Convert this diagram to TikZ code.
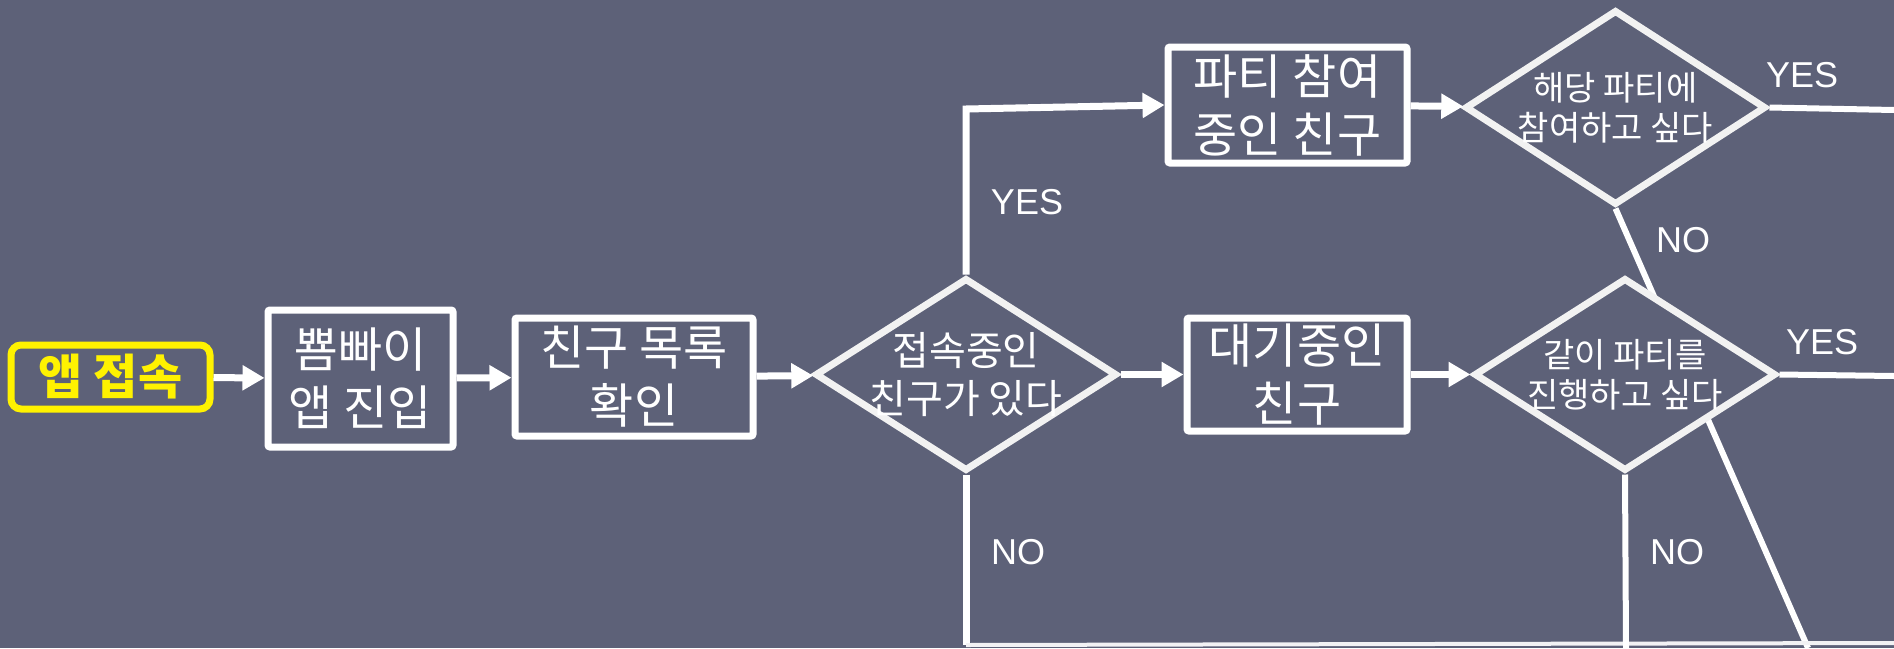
\documentclass[tikz,border=0pt]{standalone}
\usepackage{fontspec}
\setmainfont{Liberation Sans}
\newfontfamily\kr{Noto Sans CJK KR}
\usetikzlibrary{arrows.meta,shapes.geometric}
\pgfdeclarelayer{bg}
\pgfdeclarelayer{behind}
\pgfsetlayers{bg,behind,main}
\definecolor{bgcol}{RGB}{93,97,120}
\definecolor{linecol}{RGB}{242,242,242}
\tikzset{
  box/.style={draw=white, line width=7pt, fill=bgcol, rounded corners=2pt, inner sep=0pt, text=white, align=center,
    font=\kr\fontsize{48}{58}\selectfont},
  dia/.style={diamond, draw=linecol, line width=7pt, fill=bgcol, inner sep=0pt, text=white, align=center},
  conn/.style={draw=white, line width=7pt},
  arr/.style={conn, -{Triangle[length=22pt,width=24pt]}},
  yn/.style={text=white, font=\fontsize{36}{40}\selectfont, inner sep=0pt}
}
\begin{document}
\begin{tikzpicture}[x=1pt,y=-1pt]
\begin{pgfonlayer}{bg}
\fill[bgcol] (0,0) rectangle (1894,648);
\end{pgfonlayer}
\useasboundingbox (0,0) rectangle (1894,648);

% nodes
\node[draw=yellow, line width=7pt, rounded corners=10pt, minimum width=199pt, minimum height=64pt, inner sep=0pt,
  text=yellow, font=\kr\bfseries\fontsize{48}{50}\selectfont] (start) at (110.5,377) {앱 접속};
\node[box, minimum width=185pt, minimum height=137pt] (app) at (360.5,378.5) {뿀빠이\\앱 진입};
\node[box, minimum width=238pt, minimum height=118pt] (list) at (634,377) {친구 목록\\확인};
\node[dia, minimum width=302pt, minimum height=193pt,
  label={[text=white, align=center, font=\kr\fontsize{40}{48}\selectfont]center:접속중인\\친구가 있다}] (d1) at (966,374.5) {};
\node[box, minimum width=220pt, minimum height=113pt] (wait) at (1297,374.5) {대기중인\\친구};
\node[dia, minimum width=302pt, minimum height=193pt,
  label={[text=white, align=center, font=\kr\fontsize{34}{40}\selectfont]center:같이 파티를\\진행하고 싶다}] (d4) at (1625,374.5) {};
\node[box, minimum width=239pt, minimum height=116pt] (party) at (1287.5,105) {파티 참여\\중인 친구};
\node[dia, minimum width=301pt, minimum height=195pt,
  label={[text=white, align=center, font=\kr\fontsize{34}{40}\selectfont]center:해당 파티에\\참여하고 싶다}] (d3) at (1615.5,107.5) {};

% coordinates
\coordinate (c1) at (966,109);
\coordinate (c2) at (966,645);
\coordinate (c3) at (1894,643);
\coordinate (e3) at (1894,110);
\coordinate (e4) at (1894,376);
\coordinate (b4) at (1626,648);
\coordinate (bd) at (1808,648);

% connector behind diamond 4
\begin{pgfonlayer}{behind}
\draw[conn, line width=6pt] (d3.south) -- (bd);
\end{pgfonlayer}

\draw[arr] (start) -- (app);
\draw[arr] (app) -- (list);
\draw[arr] (list) -- (d1);
\draw[arr] (d1) -- (wait);
\draw[arr] (wait) -- (d4);
\draw[arr] (party) -- (d3);
\draw[arr] (d1.north) -- (c1) -- (party.west);
\draw[conn] (d1.south) -- (c2);
\draw[conn, line width=4pt, draw=white!92!bgcol] (c2) -- (c3);
\draw[conn, line width=6pt] (d3.east) -- (e3);
\draw[conn, line width=6pt] (d4.east) -- (e4);
\draw[conn, line width=6pt] (d4.south) -- (b4);

% labels
\node[yn] (y1) at (1027,202) {YES};
\node[yn] (n1) at (1018,552) {NO};
\node[yn] (y3) at (1802,75) {YES};
\node[yn] (n3) at (1683,240) {NO};
\node[yn] (y4) at (1822,342) {YES};
\node[yn] (n4) at (1677,552) {NO};
\end{tikzpicture}
\end{document}
